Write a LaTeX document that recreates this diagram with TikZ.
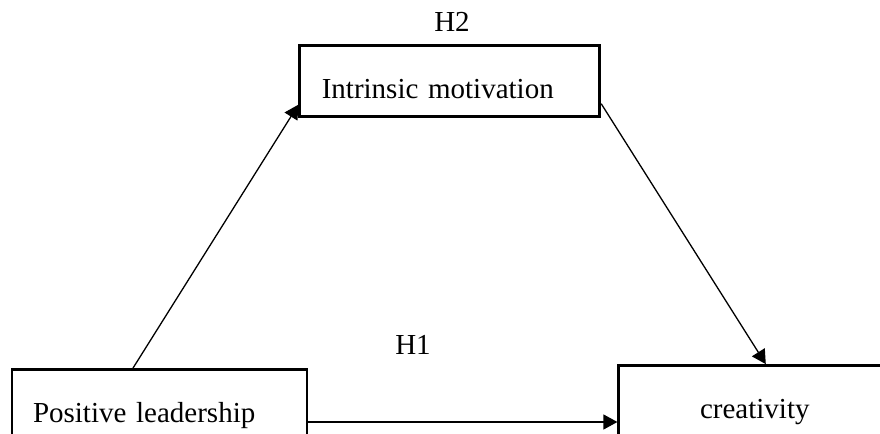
\documentclass[tikz,border=0pt]{standalone}
\usepackage{fontspec}
\setmainfont{Liberation Serif}
\usetikzlibrary{positioning, arrows.meta}
\tikzset{
	>={Triangle[length=7pt, width=7.5pt]},
	every node/.style={font=\fontsize{14.5pt}{17pt}\selectfont},
	var/.style={draw, line width=1.4pt, text height=17.5pt, text depth=0pt, inner ysep=9pt, inner xsep=10.5pt},
	path/.style={->, line width=0.65pt},
	hyp/.style={inner sep=0pt, anchor=base}}

\begin{document}
\begin{tikzpicture}

		\useasboundingbox (0,0) rectangle (440pt,217pt);
		\clip (0,0) rectangle (440pt,217pt);

		\node[var, text width=126.5pt, align=left] (lead) at (79.75pt,14.5pt) {Positive leadership};

		\node[var, inner xsep=11pt, text width=128pt, align=left, above right=125pt and -5pt of lead] (motiv) {Intrinsic motivation};

		\node[var, text width=115pt, align=center, right=154.5pt of lead, yshift=2pt] (creat) {creativity};

		\node[hyp] (h2) at (226pt,201pt) {H2};
		\node[hyp] (h1) at (206.5pt,39.5pt) {H1};

		\draw[path] ([xshift=-13.25pt]lead.north) -- ([yshift=-11.75pt]motiv.west);
		\draw[path] ([yshift=-11.25pt]motiv.east) -- ([xshift=5.5pt]creat.north);
		\draw[path] ([yshift=-8.5pt]lead.east) -- ([yshift=-8.5pt]lead.east -| creat.west);

	\end{tikzpicture}
\end{document}
